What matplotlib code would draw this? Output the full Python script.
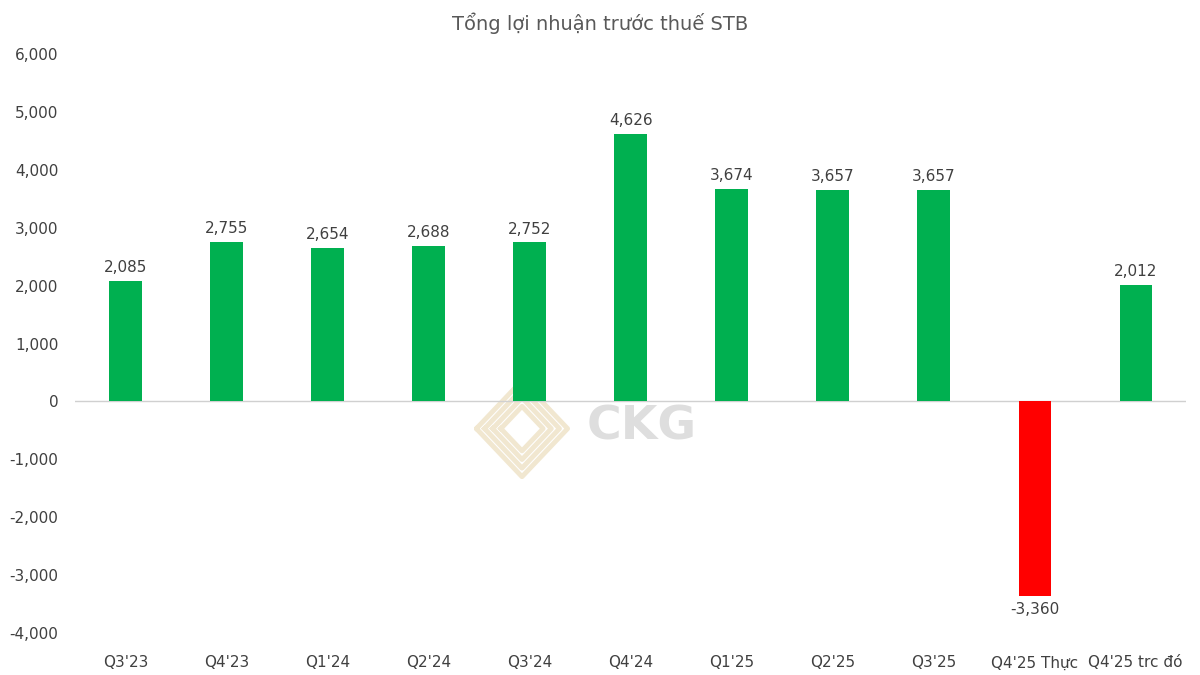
import matplotlib
matplotlib.use("Agg")
import matplotlib.pyplot as plt
import numpy as np

categories = ["Q3'23", "Q4'23", "Q1'24", "Q2'24", "Q3'24", "Q4'24",
              "Q1'25", "Q2'25", "Q3'25", "Q4'25 Thực", "Q4'25 trc đó"]
values = [2085, 2755, 2654, 2688, 2752, 4626, 3674, 3657, 3657, -3360, 2012]
yticks = [-4000, -3000, -2000, -1000, 0, 1000, 2000, 3000, 4000, 5000, 6000]

plt.rcParams['font.family'] = ['DejaVu Sans']
txt = "#404040"

fig = plt.figure(figsize=(12, 6.75), dpi=100)

# watermark behind the chart
wm = fig.add_axes([0.395, 0.29, 0.08, 0.15], zorder=0)
wm.set_xlim(-1, 1)
wm.set_ylim(-1, 1)
wm.axis("off")
for r in [0.95, 0.78, 0.61, 0.44]:
    wm.plot([-r, 0, r, 0, -r], [0, r, 0, -r, 0], color="#f1e7d0", lw=3.5)
fig.text(0.535, 0.367, "CKG", ha="center", va="center", fontsize=34,
         fontweight="bold", color="#dedede", zorder=0)

ax = fig.add_axes([0.0625, 0.062, 0.926, 0.858], zorder=1)
ax.patch.set_visible(False)

x = np.arange(len(categories))
colors = ["#00B050" if v >= 0 else "#FF0000" for v in values]
ax.bar(x, values, width=0.32, color=colors, zorder=2)

for xi, v in zip(x, values):
    if v >= 0:
        ax.annotate(f"{v:,}", (xi, v), xytext=(0, 4), textcoords="offset points",
                    ha="center", va="bottom", fontsize=11, color=txt)
    else:
        ax.annotate(f"{v:,}", (xi, v), xytext=(0, -4), textcoords="offset points",
                    ha="center", va="top", fontsize=11, color=txt)

ax.axhline(0, color="#d0d0d0", lw=1, zorder=1)
ax.set_xlim(-0.5, len(categories) - 0.5)
ax.set_ylim(-4000, 6000)
ax.set_yticks(yticks)
ax.set_yticklabels([f"{t:,}" for t in yticks])
ax.set_xticks(x)
ax.set_xticklabels(categories)
ax.tick_params(axis="both", length=0, labelsize=11, colors=txt)
ax.tick_params(axis="y", pad=12)
ax.tick_params(axis="x", pad=16)
for s in ax.spines.values():
    s.set_visible(False)

fig.text(0.5, 0.965, "Tổng lợi nhuận trước thuế STB", ha="center", va="center",
         fontsize=14, color="#595959")

fig.savefig("out.png", dpi=100)
